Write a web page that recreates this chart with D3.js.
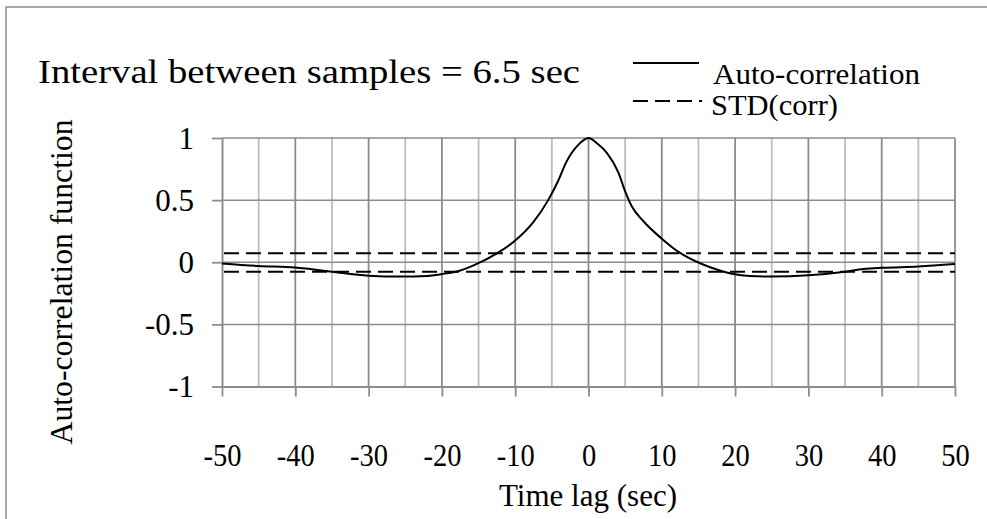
<!DOCTYPE html>
<html>
<head>
<meta charset="utf-8">
<script src="https://cdn.jsdelivr.net/npm/d3@7"></script>
<style>
  html, body { margin: 0; padding: 0; background: #fff; }
  svg { display: block; font-family: "Liberation Serif", "Times New Roman", serif; }
</style>
</head>
<body>
<div id="chart"></div>
<script>
// auto-correlation (time lag in sec, value)
const lags = [-50, -45, -40, -38, -35, -30, -25.7, -22, -20, -17.6, -15.3, -12.5, -10.2, -7.5, -5.5, -4.1, -3, -1.4, 0,
  1.2, 2.5, 4.1, 5, 5.9, 7.5, 10, 12.5, 15.3, 18, 19.8, 22, 25, 30, 35, 37.5, 40, 45, 50];
const corr = [-0.01, -0.03, -0.042, -0.055, -0.076, -0.108, -0.115, -0.11, -0.095, -0.068, -0.015, 0.072, 0.165, 0.325, 0.5, 0.66, 0.81, 0.945, 1,
  0.955, 0.88, 0.72, 0.57, 0.45, 0.33, 0.19, 0.075, -0.01, -0.068, -0.095, -0.11, -0.115, -0.105, -0.076, -0.055, -0.045, -0.035, -0.015];

// +/- STD(corr) band
const stdLevels = [0.072, -0.076];

const xTicks = [-50, -40, -30, -20, -10, 0, 10, 20, 30, 40, 50];
const xGrid = d3.range(-50, 51, 5);
const yTicks = [-1, -0.5, 0, 0.5, 1];

const width = 987;
const height = 519;

const x = d3.scaleLinear().domain([-50, 50]).range([222, 955]);
const y = d3.scaleLinear().domain([-1, 1]).range([386.5, 138]);

const svg = d3.select("#chart")
  .append("svg")
  .attr("width", width)
  .attr("height", height);

// outer frame (only top and left edges fall inside the picture)
svg.append("rect")
  .attr("x", 6).attr("y", 7)
  .attr("width", width + 20).attr("height", height + 20)
  .attr("fill", "none")
  .attr("stroke", "#8a8a8a")
  .attr("stroke-width", 1.5);

const g = svg.append("g");

// vertical grid: every 5 s, tens darker
g.append("g")
  .selectAll("line")
  .data(xGrid.filter((d) => d !== -50))
  .join("line")
  .attr("x1", (d) => x(d)).attr("x2", (d) => x(d))
  .attr("y1", y(1)).attr("y2", y(-1))
  .attr("stroke", (d) => (d % 10 === 0 ? "#8c8c8c" : "#bdbdbd"))
  .attr("stroke-width", 1.8);

// horizontal grid
g.append("g")
  .selectAll("line")
  .data(yTicks.filter((d) => d !== -1))
  .join("line")
  .attr("x1", x(-50)).attr("x2", x(50))
  .attr("y1", (d) => y(d)).attr("y2", (d) => y(d))
  .attr("stroke", "#8c8c8c")
  .attr("stroke-width", 1.5);

// axes — plain hyphen for negatives, like the original
const xAxis = g.append("g")
  .attr("transform", `translate(0,${y(-1)})`)
  .call(d3.axisBottom(x).tickValues(xTicks).tickSize(10).tickSizeOuter(0).tickFormat((d) => String(d)));
const yAxis = g.append("g")
  .attr("transform", `translate(${x(-50)},0)`)
  .call(d3.axisLeft(y).tickValues(yTicks).tickSize(10).tickSizeOuter(0).tickFormat((d) => String(d)));

[xAxis, yAxis].forEach((a) => {
  a.select(".domain").attr("stroke", "#8c8c8c").attr("stroke-width", 2);
  a.selectAll(".tick line").attr("stroke", "#8c8c8c").attr("stroke-width", 1.8);
  a.selectAll(".tick text")
    .attr("fill", "#000")
    .attr("font-family", "Liberation Serif, Times New Roman, serif")
    .attr("font-size", 31);
});
xAxis.selectAll(".tick text").attr("y", 0).attr("dy", null).attr("transform", "translate(0,79) scale(0.92,1)");
yAxis.selectAll(".tick text").attr("x", -28).attr("dy", "0.33em");

// STD(corr) dashed levels
g.append("g")
  .selectAll("line")
  .data(stdLevels)
  .join("line")
  .attr("x1", x(-50) + 2).attr("x2", x(50))
  .attr("y1", (d) => y(d)).attr("y2", (d) => y(d))
  .attr("stroke", "#000")
  .attr("stroke-width", 2)
  .attr("stroke-dasharray", "15,7");

// auto-correlation curve
const points = lags.map((l, i) => [l, corr[i]]);
g.append("path")
  .datum(points)
  .attr("fill", "none")
  .attr("stroke", "#000")
  .attr("stroke-width", 2)
  .attr("d", d3.line().x((d) => x(d[0])).y((d) => y(d[1])).curve(d3.curveMonotoneX));

// title
svg.append("text")
  .attr("x", 38).attr("y", 83)
  .attr("font-size", 34)
  .attr("textLength", 542)
  .attr("lengthAdjust", "spacingAndGlyphs")
  .text("Interval between samples  = 6.5 sec");

// legend
const legend = svg.append("g");
legend.append("line")
  .attr("x1", 633).attr("x2", 699).attr("y1", 63).attr("y2", 63)
  .attr("stroke", "#000").attr("stroke-width", 2);
legend.append("text")
  .attr("x", 713).attr("y", 84)
  .attr("font-size", 29)
  .attr("textLength", 207)
  .attr("lengthAdjust", "spacingAndGlyphs")
  .text("Auto-correlation");
legend.append("line")
  .attr("x1", 633).attr("x2", 702).attr("y1", 101).attr("y2", 101)
  .attr("stroke", "#000").attr("stroke-width", 2)
  .attr("stroke-dasharray", "15,7");
legend.append("text")
  .attr("x", 711).attr("y", 115)
  .attr("font-size", 29)
  .attr("textLength", 127)
  .attr("lengthAdjust", "spacingAndGlyphs")
  .text("STD(corr)");

// axis titles
svg.append("text")
  .attr("transform", "translate(72,282) rotate(-90)")
  .attr("text-anchor", "middle")
  .attr("font-size", 32)
  .attr("textLength", 325)
  .attr("lengthAdjust", "spacingAndGlyphs")
  .text("Auto-correlation function");

svg.append("text")
  .attr("x", 588).attr("y", 506)
  .attr("text-anchor", "middle")
  .attr("font-size", 31)
  .attr("textLength", 178)
  .attr("lengthAdjust", "spacingAndGlyphs")
  .text("Time lag (sec)");
</script>
</body>
</html>
